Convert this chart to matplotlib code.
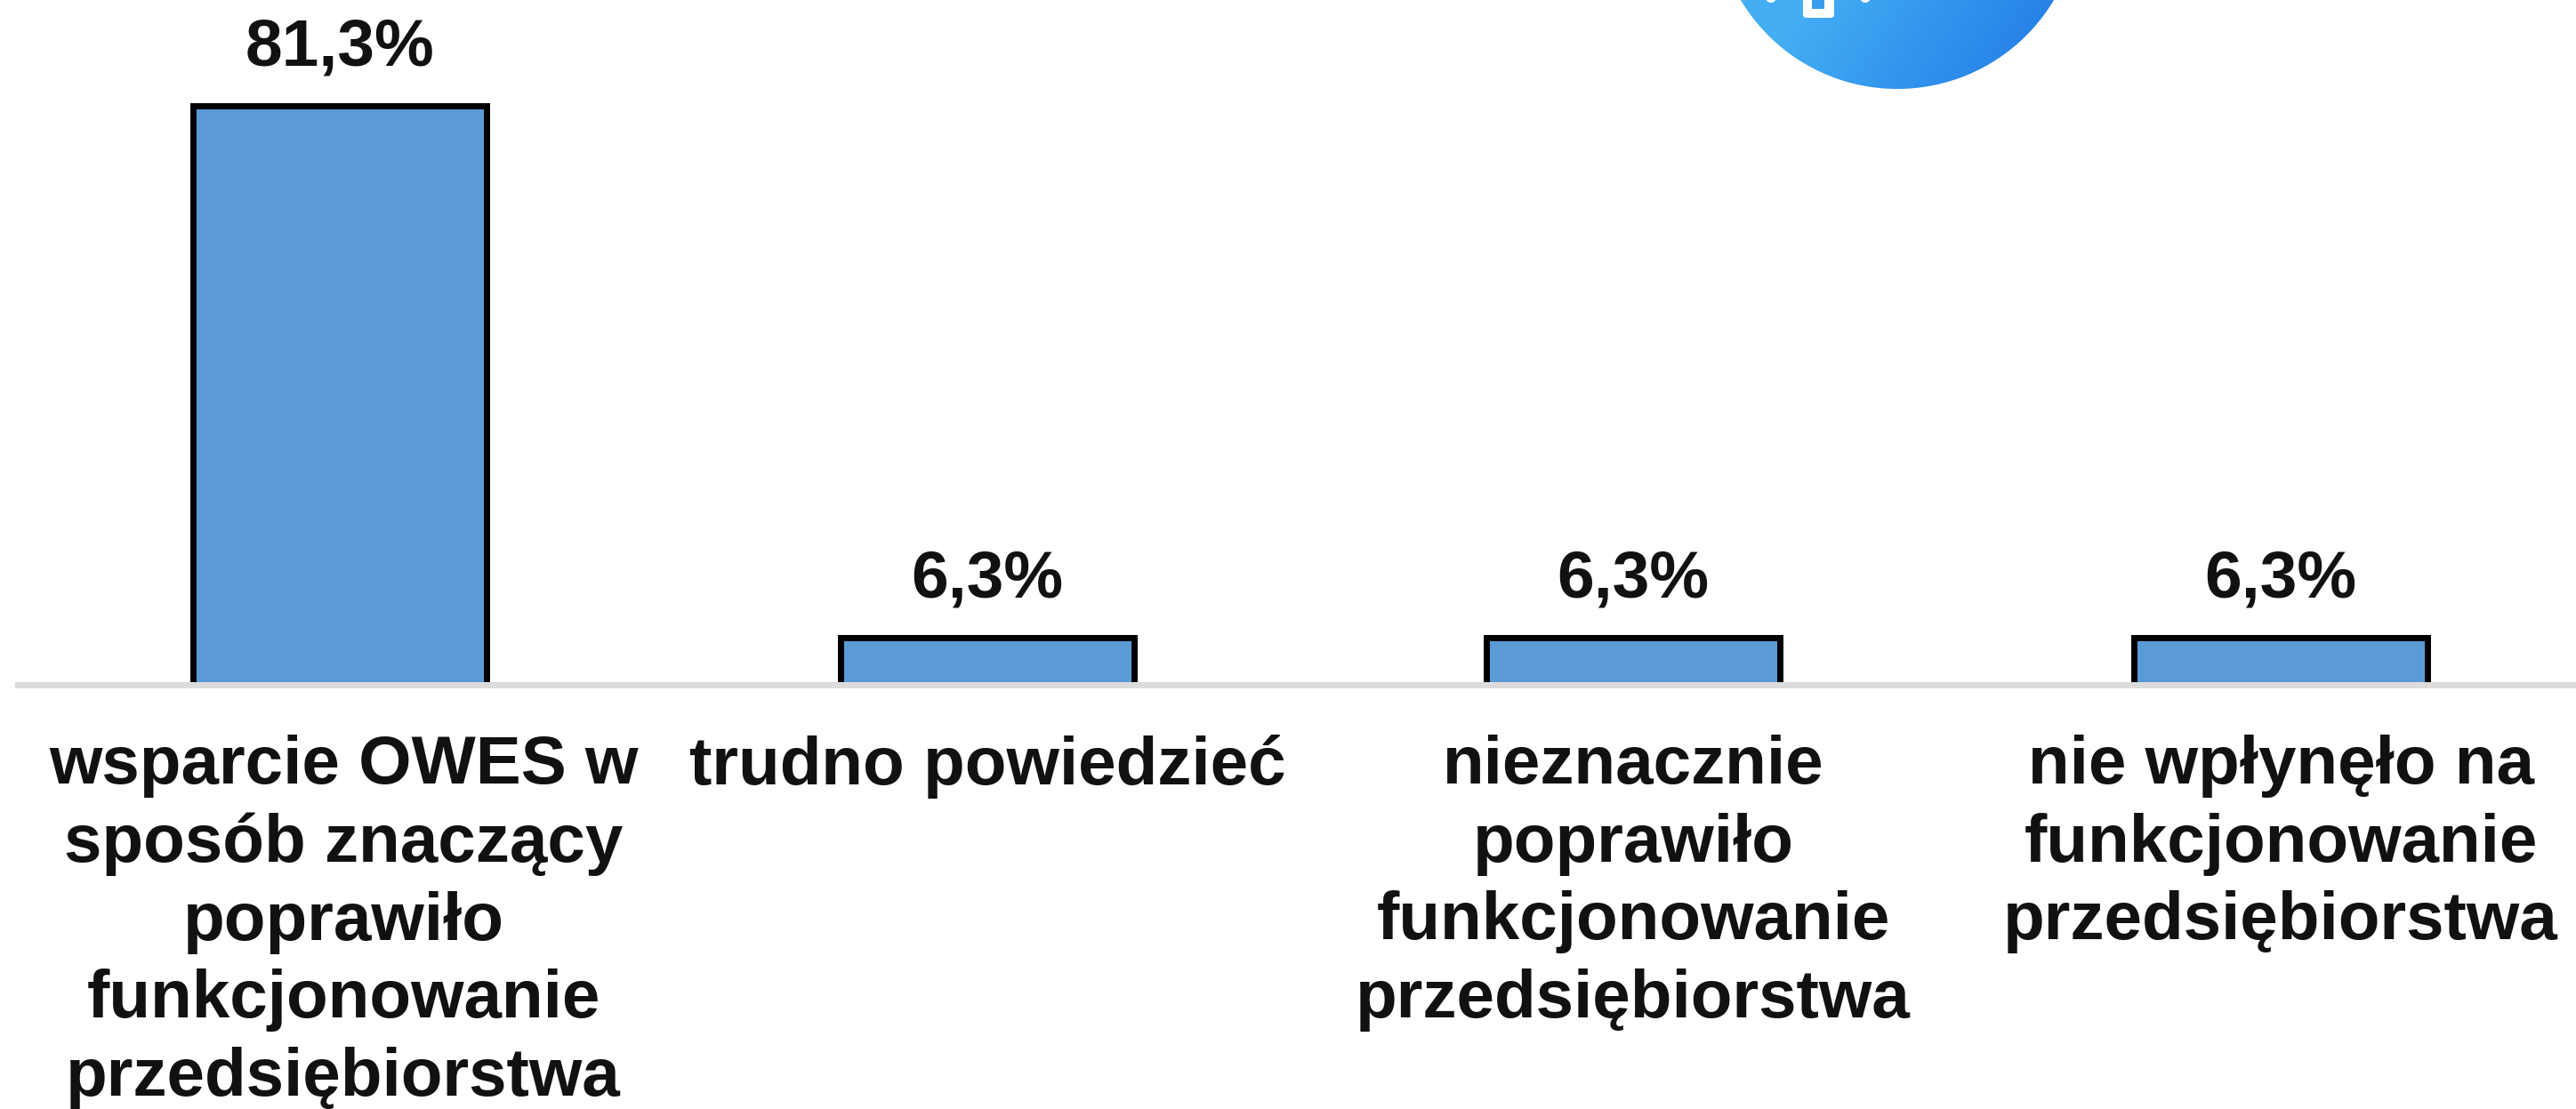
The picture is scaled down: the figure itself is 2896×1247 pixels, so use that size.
import numpy as np
import matplotlib
matplotlib.use("Agg")
import matplotlib.pyplot as plt
from matplotlib.colors import LinearSegmentedColormap
from matplotlib.patches import Circle, FancyBboxPatch, Rectangle
from matplotlib.transforms import ScaledTranslation

categories = [
    "wsparcie OWES w\nsposób znaczący\npoprawiło\nfunkcjonowanie\nprzedsiębiorstwa",
    "trudno powiedzieć",
    "nieznacznie\npoprawiło\nfunkcjonowanie\nprzedsiębiorstwa",
    "nie wpłynęło na\nfunkcjonowanie\nprzedsiębiorstwa",
]
values = [81.3, 6.3, 6.3, 6.3]
labels = ["81,3%", "6,3%", "6,3%", "6,3%"]

W, H = 2896, 1247
plt.rcParams["font.family"] = ["Liberation Sans", "DejaVu Sans"]
fig = plt.figure(figsize=(W / 100, H / 100), dpi=100)

# axis baseline at y=767 px, top of big bar at y=119 px
base = 767
top = 119
px_per_unit = (base - top) / values[0]
ymax = base / px_per_unit
ax = fig.add_axes([20 / W, (H - base) / H, (W - 20) / W, base / H])
ax.set_xlim(20, W)
ax.set_ylim(0, ymax)

centers = [382, 1110, 1836, 2564]
bar_w = 330
ax.bar(centers, values, width=bar_w, color="#5b9bd5", edgecolor="none", zorder=3)
# outline only on three sides, the bottom runs into the grey band
for x, v in zip(centers, values):
    ax.plot([x - bar_w / 2, x - bar_w / 2, x + bar_w / 2, x + bar_w / 2], [0, v, v, 0],
            color="black", lw=5, solid_joinstyle="miter", zorder=4)

for x, v, l in zip(centers, values, labels):
    ax.annotate(l, (x, v), xytext=(0, 22), textcoords="offset points",
                ha="center", va="bottom", fontsize=54, fontweight="bold", color="#111111")

for s in ["left", "right", "top"]:
    ax.spines[s].set_visible(False)
# thick light band sits just under the bars
ax.spines["bottom"].set_position(("outward", 2.5))
ax.spines["bottom"].set_color("#dcdcdc")
ax.spines["bottom"].set_linewidth(5)
ax.set_yticks([])
ax.set_xticks(centers)
ax.set_xticklabels(categories, fontsize=55, fontweight="bold", color="#111111", linespacing=1.3)
ax.tick_params(axis="x", length=0, pad=40)
first = ax.get_xticklabels()[0]
first.set_transform(first.get_transform() + ScaledTranslation(0.04, 0, fig.dpi_scale_trans))

# blue circle badge cut off by the top edge
ov = fig.add_axes([0, 0, 1, 1])
ov.set_xlim(0, W)
ov.set_ylim(H, 0)
ov.axis("off")
ov.patch.set_alpha(0)
badge = Circle((2133, -105), 205, transform=ov.transData, fc="none", ec="none")
ov.add_patch(badge)
cmap = LinearSegmentedColormap.from_list("badge", ["#45aef3", "#2f92ec", "#1f74e4"])
gx, gy = np.meshgrid(np.linspace(0, 1, 200), np.linspace(0, 1, 200))
img = ov.imshow(gx * 0.6 + gy * 0.4, extent=(1928, 2338, 100, -310), cmap=cmap, vmin=0.45, vmax=1.0,
                aspect="auto", zorder=2)
img.set_clip_path(badge)
ov.set_xlim(0, W)
ov.set_ylim(H, 0)

# bits of the white icon
ov.add_patch(FancyBboxPatch((2031, -20), 27, 36, boxstyle="round,pad=4", fc="white", ec="none", zorder=3))
ov.add_patch(Rectangle((2037, -20), 14, 30, fc="#3a9cef", ec="none", zorder=4))
ov.add_patch(Circle((1991, -3), 6, fc="white", ec="none", zorder=3))
ov.add_patch(Circle((2097, -3), 6, fc="white", ec="none", zorder=3))

fig.savefig("out.png", dpi=100)
